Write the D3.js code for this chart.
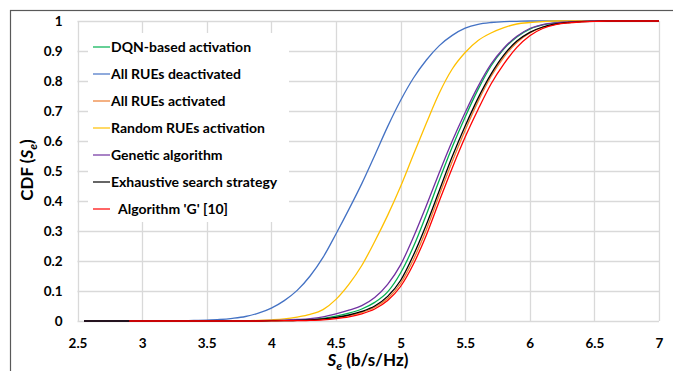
<!DOCTYPE html>
<html>
<head>
<meta charset="utf-8">
<script src="https://cdn.jsdelivr.net/npm/d3@7"></script>
<style>
  body { margin: 0; background: #fff; }
  svg { display: block; font-family: Lato, "Liberation Sans", sans-serif; font-weight: bold; }
</style>
</head>
<body>
<div id="chart"></div>
<script>
const width = 673,
  height = 371;

// spectral efficiency grid (b/s/Hz)
const se = [2.55, 2.7, 2.9, 3.0, 3.1, 3.2, 3.3, 3.4, 3.5, 3.6, 3.7, 3.8, 3.9, 4.0, 4.1, 4.2, 4.3, 4.4, 4.5, 4.6,
  4.7, 4.8, 4.9, 5.0, 5.1, 5.2, 5.3, 5.4, 5.5, 5.6, 5.7, 5.8, 5.9, 6.0, 6.1, 6.2, 6.3, 6.4, 6.5, 6.6, 6.8, 7.0];

// CDF values
const dqn = [0, 0, 0, 0, 0, 0, 0, 0, 0, 0, 0, 0, 0, 0.001, 0.002, 0.003, 0.005, 0.009, 0.016, 0.026,
  0.04, 0.062, 0.097, 0.16, 0.248, 0.355, 0.47, 0.58, 0.68, 0.772, 0.85, 0.907, 0.947, 0.973, 0.987, 0.994, 0.997, 0.999, 1, 1, 1, 1];
const allOff = [0, 0, 0, 0, 0, 0.0005, 0.001, 0.002, 0.003, 0.005, 0.009, 0.015, 0.026, 0.043, 0.068, 0.102, 0.15, 0.212, 0.29, 0.372,
  0.458, 0.552, 0.648, 0.735, 0.81, 0.87, 0.918, 0.952, 0.976, 0.989, 0.995, 0.998, 0.999, 1, 1, 1, 1, 1, 1, 1, 1, 1];
const allOn = [0, 0, 0, 0, 0, 0, 0, 0, 0, 0, 0, 0, 0, 0.001, 0.001, 0.002, 0.003, 0.006, 0.011, 0.018,
  0.029, 0.046, 0.075, 0.125, 0.205, 0.305, 0.42, 0.532, 0.636, 0.732, 0.815, 0.88, 0.928, 0.96, 0.979, 0.989, 0.995, 0.998, 0.999, 1, 1, 1];
const randomAct = [0, 0, 0, 0, 0, 0, 0, 0, 0, 0.0005, 0.001, 0.001, 0.002, 0.004, 0.007, 0.013, 0.022, 0.038, 0.072, 0.122,
  0.185, 0.265, 0.352, 0.448, 0.555, 0.66, 0.76, 0.84, 0.895, 0.935, 0.96, 0.978, 0.99, 0.995, 0.998, 1, 1, 1, 1, 1, 1, 1];
const genetic = [0, 0, 0, 0, 0, 0, 0, 0, 0, 0, 0, 0, 0.001, 0.002, 0.003, 0.005, 0.008, 0.014, 0.024, 0.036,
  0.051, 0.078, 0.122, 0.187, 0.28, 0.385, 0.495, 0.6, 0.695, 0.782, 0.856, 0.91, 0.949, 0.975, 0.988, 0.994, 0.997, 0.999, 1, 1, 1, 1];
const exhaustive = [0, 0, 0, 0, 0, 0, 0, 0, 0, 0, 0, 0, 0, 0.001, 0.001, 0.002, 0.004, 0.007, 0.012, 0.02,
  0.032, 0.05, 0.082, 0.135, 0.22, 0.322, 0.435, 0.548, 0.65, 0.743, 0.823, 0.887, 0.933, 0.962, 0.98, 0.99, 0.995, 0.998, 0.999, 1, 1, 1];
const algG = [null, null, 0, 0, 0, 0, 0, 0, 0, 0, 0, 0, 0, 0.0005, 0.001, 0.001, 0.002, 0.004, 0.008, 0.014,
  0.024, 0.04, 0.068, 0.115, 0.19, 0.287, 0.4, 0.51, 0.613, 0.705, 0.79, 0.857, 0.912, 0.951, 0.975, 0.988, 0.994, 0.997, 0.999, 1, 1, 1];

const names = ["DQN-based activation", "All RUEs deactivated", "All RUEs activated", "Random RUEs activation",
  "Genetic algorithm", "Exhaustive search strategy", " Algorithm 'G' [10]"];
const colors = ["#00b050", "#4472c4", "#ed7d31", "#ffc000", "#7030a0", "#000000", "#ff0000"];
const seriesValues = [dqn, allOff, allOn, randomAct, genetic, exhaustive, algG];

const xTicks = [2.5, 3, 3.5, 4, 4.5, 5, 5.5, 6, 6.5, 7];
const yTicks = [0, 0.1, 0.2, 0.3, 0.4, 0.5, 0.6, 0.7, 0.8, 0.9, 1];

const svg = d3.select("#chart")
  .append("svg")
  .attr("width", width)
  .attr("height", height);

// outer chart frame (only top and left show in the crop)
svg.append("rect")
  .attr("x", 10.5).attr("y", 10.5)
  .attr("width", 800).attr("height", 500)
  .attr("fill", "none")
  .attr("stroke", "#595959")
  .attr("stroke-width", 1.2);

const x = d3.scaleLinear().domain([2.5, 7]).range([77.5, 659]);
const y = d3.scaleLinear().domain([0, 1]).range([321, 21]);

// gridlines
svg.append("g")
  .selectAll("line")
  .data(xTicks)
  .join("line")
  .attr("x1", d => Math.round(x(d)) + 0.5).attr("x2", d => Math.round(x(d)) + 0.5)
  .attr("y1", y(1)).attr("y2", y(0))
  .attr("stroke", "#d9d9d9").attr("stroke-width", 1.3);

svg.append("g")
  .selectAll("line")
  .data(yTicks)
  .join("line")
  .attr("x1", x(2.5)).attr("x2", x(7))
  .attr("y1", d => Math.round(y(d)) + 0.5).attr("y2", d => Math.round(y(d)) + 0.5)
  .attr("stroke", "#d9d9d9").attr("stroke-width", 1.3);

// axes (labels only)
const xAxis = svg.append("g")
  .attr("transform", `translate(0,${y(0)})`)
  .call(d3.axisBottom(x).tickValues(xTicks).tickSize(0).tickPadding(17).tickFormat(d3.format("~g")));
const yAxis = svg.append("g")
  .attr("transform", `translate(${x(2.5)},0)`)
  .call(d3.axisLeft(y).tickValues(yTicks).tickSize(0).tickPadding(15).tickFormat(d3.format("~g")));

[xAxis, yAxis].forEach(a => {
  a.select(".domain").remove();
  a.selectAll("text")
    .attr("fill", "#000")
    .style("font-family", "Lato, sans-serif")
    .style("font-weight", "bold")
    .style("font-size", "13.5px");
});

// curves
const line = d3.line()
  .defined(d => d[1] != null)
  .x(d => x(d[0]))
  .y(d => y(d[1]))
  .curve(d3.curveMonotoneX);

svg.append("g")
  .selectAll("path")
  .data(seriesValues)
  .join("path")
  .attr("fill", "none")
  .attr("stroke", (d, i) => colors[i])
  .attr("stroke-width", 1.3)
  .attr("d", d => line(se.map((s, j) => [s, d[j]])));

// legend
const legend = svg.append("g");
legend.append("rect")
  .attr("x", 88).attr("y", 33)
  .attr("width", 201).attr("height", 189)
  .attr("fill", "#fff");

const items = legend.selectAll("g")
  .data(names)
  .join("g")
  .attr("transform", (d, i) => `translate(93,${47 + i * 27})`);

items.append("line")
  .attr("x1", 0).attr("x2", 17)
  .attr("stroke", (d, i) => colors[i])
  .attr("stroke-opacity", 0.6)
  .attr("stroke-width", 2);

items.append("text")
  .attr("x", (d, i) => i === 6 ? 25 : 18)
  .attr("dy", "0.35em")
  .attr("fill", "#000")
  .style("font-size", "14px")
  .text(d => d.trim());

// axis titles
svg.append("text")
  .attr("x", 368).attr("y", 366)
  .attr("text-anchor", "middle")
  .style("font-size", "17px")
  .html('<tspan font-style="italic">S</tspan><tspan font-style="italic" font-size="12px" dy="4">e</tspan><tspan dy="-4"> (b/s/Hz)</tspan>');

svg.append("text")
  .attr("transform", "translate(33,170) rotate(-90)")
  .attr("text-anchor", "middle")
  .style("font-size", "17px")
  .html('CDF (<tspan font-style="italic">S</tspan><tspan font-style="italic" font-size="12px" dy="4">e</tspan><tspan dy="-4">)</tspan>');
</script>
</body>
</html>
